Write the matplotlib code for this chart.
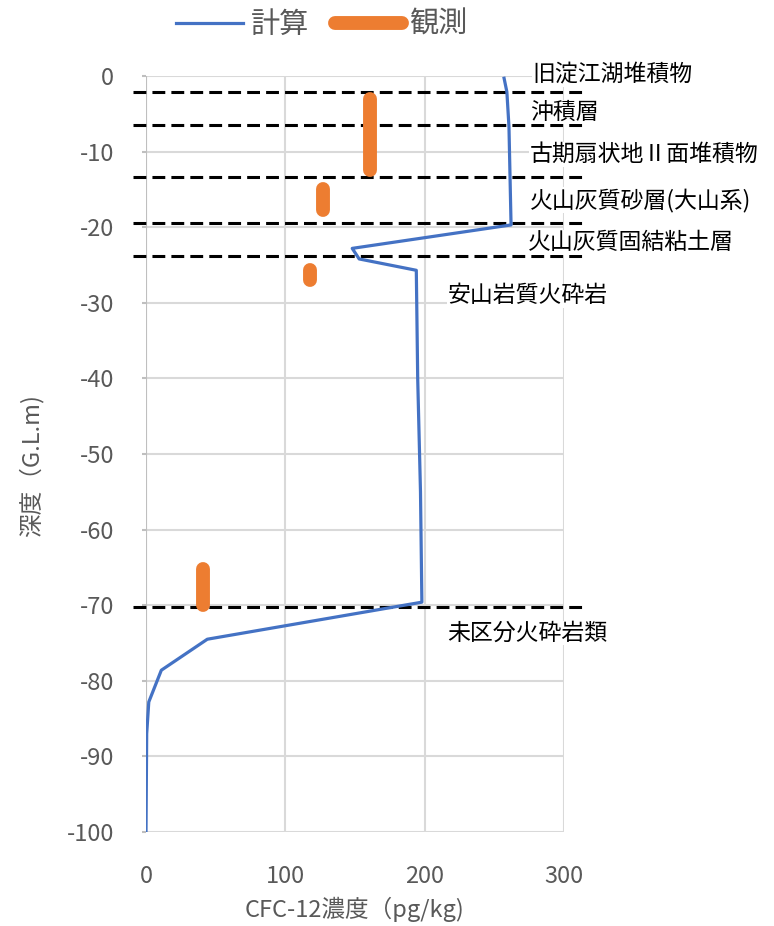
import matplotlib
matplotlib.use('Agg')
import matplotlib.pyplot as plt
from matplotlib.lines import Line2D

plt.rcParams['font.family'] = ['Noto Sans CJK JP', 'DejaVu Sans']

# calculated CFC-12 profile
calc_conc = [257, 259, 260.5, 262, 148, 153, 194, 195, 197, 198, 44, 11, 2, 0.5, 0]
calc_depth = [-0.3, -2.1, -6.7, -19.7, -22.8, -24.2, -25.7, -40, -55, -69.6, -74.5, -78.6, -82.8, -87, -100]

# observed ranges (screen intervals)
obs_conc = [161, 127, 118, 41]
obs_top = [-3.0, -14.9, -25.7, -65.2]
obs_bottom = [-12.4, -17.7, -27.0, -70.0]

# layer boundaries
boundary_depth = [-2.1, -6.5, -13.3, -19.5, -23.8, -70.3]

layer_names = ['旧淀江湖堆積物', '沖積層', '古期扇状地Ⅱ面堆積物', '火山灰質砂層(大山系)',
               '火山灰質固結粘土層', '安山岩質火砕岩', '未区分火砕岩類']
layer_x = [277.5, 275.5, 275.5, 275.5, 274, 216.5, 216]
layer_y = [0.2, -4.8, -10.4, -16.4, -22.0, -29.1, -73.7]

xticks = [0, 100, 200, 300]
yticks = [0, -10, -20, -30, -40, -50, -60, -70, -80, -90, -100]

blue = '#4472C4'
orange = '#ED7D31'
gray = '#595959'
grid = '#d9d9d9'

fig = plt.figure(figsize=(7.74, 9.26), dpi=100)
ax = fig.add_axes([146/774, 1 - 832/926, 418/774, 756/926])

ax.set_xlim(0, 300)
ax.set_ylim(-100, 0)
for s in ax.spines.values():
    s.set_visible(False)
ax.set_xticks(xticks)
ax.set_xticklabels([str(v) for v in xticks])
ax.set_yticks(yticks)
ax.set_yticklabels([str(v) for v in yticks])
ax.grid(True, color=grid, lw=1.5, zorder=0)
ax.set_axisbelow(True)
ax.plot([0, 0], [-100, 0], color='#bfbfbf', lw=1.5, zorder=1)
ax.tick_params(axis='x', length=0, pad=24, labelsize=17, labelcolor=gray)
ax.tick_params(axis='y', length=3, width=1.5, color='#bfbfbf', pad=20,
               labelsize=17, labelcolor=gray)

ax.set_xlabel('CFC-12濃度（pg/kg)', fontsize=17, color=gray, labelpad=6)
ax.set_ylabel('深度（G.L.m)', fontsize=17, color=gray)
ax.yaxis.set_label_coords(-0.245, 0.485)

# layer boundaries, running a little past both sides of the frame
for d in boundary_depth:
    ax.plot([-9.3, 316], [d, d], color='black', lw=2.2, dashes=(4.2, 2.0),
            clip_on=False, zorder=3)

line_calc, = ax.plot(calc_conc, calc_depth, color=blue, lw=2.3, zorder=4)

for c, t, b in zip(obs_conc, obs_top, obs_bottom):
    ax.plot([c, c], [t, b], color=orange, lw=10, solid_capstyle='round', zorder=5)

for name, x, y in zip(layer_names, layer_x, layer_y):
    ax.text(x, y, name, fontsize=16.5, color='black', ha='left', va='center',
            zorder=6, clip_on=False,
            bbox=dict(facecolor='white', edgecolor='none', pad=0.5))

h_calc = Line2D([], [], color=blue, lw=2.3)
h_obs = Line2D([], [], color=orange, lw=10, solid_capstyle='round')
leg = fig.legend([h_calc, h_obs], ['計算', '観測'], loc='center',
                 bbox_to_anchor=(322/774, 1 - 25/926), ncol=2, frameon=False,
                 fontsize=21, handlelength=2.3, handletextpad=0.25,
                 columnspacing=0.9)
for t in leg.get_texts():
    t.set_color(gray)

fig.savefig('out.png', dpi=100)
